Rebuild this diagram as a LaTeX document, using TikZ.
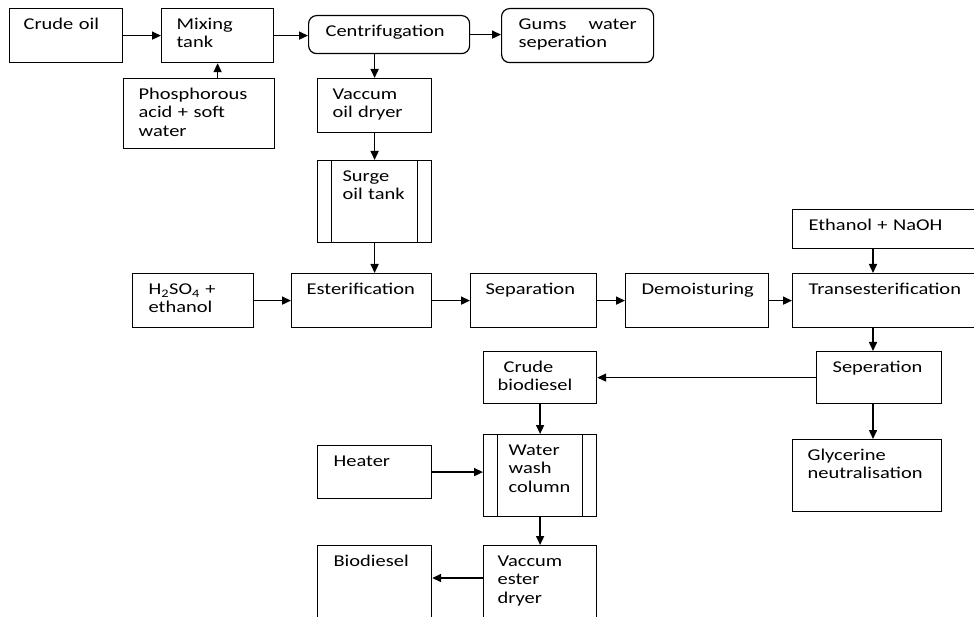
\documentclass[tikz,border=0pt]{standalone}
\usepackage{fontspec}
\setmainfont{Carlito}[FakeStretch=1.24]
\usetikzlibrary{arrows.meta}

\begin{document}
\begin{tikzpicture}[x=1pt, y=-1pt, blk/.style={draw, line width=1.2pt, rectangle, anchor=north west, align=left, inner ysep=0pt, inner xsep=15pt, text height=21pt, font=\fontsize{16.5}{18.3}\selectfont}, rnd/.style={blk, rounded corners=8pt}, proc/.style={blk, inner xsep=25pt, path picture={\draw[line width=1.2pt] ([xshift=14pt]path picture bounding box.north west) -- ([xshift=14pt]path picture bounding box.south west) ([xshift=-14pt]path picture bounding box.north east) -- ([xshift=-14pt]path picture bounding box.south east);}}, arr/.style={line width=1.5pt, -{Triangle[length=9pt,width=8pt]}}]
\useasboundingbox (0,0) rectangle (974,617);
\clip (0,0) rectangle (974,617);
\node[blk, inner xsep=14pt, text width=85pt, text depth=33pt] (crude) at (9,8) {Crude oil};
\node[blk, text width=82pt, text depth=33pt] (mixing) at (161,8) {Mixing\\tank};
\node[blk, text width=121pt, text depth=49pt] (phos) at (123,78) {Phosphorous\\acid + soft\\water};
\node[rnd, inner xsep=17pt, text width=127pt, text depth=17pt] (centri) at (308,15) {Centrifugation};
\node[rnd, inner xsep=17pt, text width=118pt, text depth=33pt, align=justify] (gums) at (501,8) {Gums water seperation};
\node[blk, text width=84pt, text depth=33pt] (vod) at (317,78) {Vaccum\\oil~dryer};
\node[proc, text width=64pt, text depth=61pt] (surge) at (317,160) {Surge\\oil~tank};
\node[blk, inner xsep=16pt, text width=89pt, text depth=33pt] (acid) at (132,273) {H\textsubscript{2}SO\textsubscript{4} +\\ethanol};
\node[blk, text width=110pt, text depth=33pt] (ester) at (291,273) {Esterification};
\node[blk, text width=96pt, text depth=33pt] (sepa) at (470,273) {Separation};
\node[blk, inner xsep=16pt, text width=111pt, text depth=33pt] (demoist) at (625,273) {Demoisturing};
\node[blk, inner xsep=16pt, text width=168pt, text depth=33pt] (trans) at (792,273) {Transesterification};
\node[blk, inner xsep=16pt, text width=168pt, text depth=18pt] (ethanol) at (792,209) {Ethanol + NaOH};
\node[blk, inner xsep=16pt, text width=93pt, text depth=31pt] (sepb) at (816,351) {Seperation};
\node[blk, inner xsep=14pt, text width=85pt, text depth=31pt] (crudebio) at (483,351) {\hspace*{6pt}Crude\\biodiesel};
\node[proc, text width=63pt, text depth=61pt] (wash) at (483,434) {Water\\wash\\column};
\node[blk, text width=119pt, text depth=51pt] (glyc) at (792,439) {Glycerine\\neutralisation};
\node[blk, inner xsep=16pt, text width=82pt, text depth=32pt] (heater) at (317,445) {Heater};
\node[blk, inner xsep=14pt, text width=85pt, text depth=79pt] (vedry) at (483,545) {Vaccum\\ester\\dryer};
\node[blk, inner xsep=16pt, text width=82pt, text depth=79pt] (biodiesel) at (317,545) {Biodiesel};
\coordinate (tcol) at (873,0);
\draw[arr] (crude.east) -- (crude.east -| mixing.west);
\draw[arr] (phos.north -| mixing.south) -- (mixing.south);
\draw[arr] (mixing.east) -- (mixing.east -| centri.west);
\draw[arr] (centri.east) -- (centri.east -| gums.west);
\draw[arr] (centri.south -| vod.north) -- (vod.north);
\draw[arr] (vod.south) -- (surge.north);
\draw[arr] (surge.south) -- (surge.south |- ester.north);
\draw[arr] (acid.east) -- (acid.east -| ester.west);
\draw[arr] (ester.east) -- (ester.east -| sepa.west);
\draw[arr] (sepa.east) -- (sepa.east -| demoist.west);
\draw[arr] (demoist.east) -- (demoist.east -| trans.west);
\draw[arr] (tcol |- ethanol.south) -- (tcol |- trans.north);
\draw[arr] (tcol |- trans.south) -- (tcol |- sepb.north);
\draw[arr] (tcol |- sepb.south) -- (tcol |- glyc.north);
\draw[arr] (sepb.west) -- (sepb.west -| crudebio.east);
\draw[arr] (crudebio.south) -- (crudebio.south |- wash.north);
\draw[arr] (heater.east) -- (heater.east -| wash.west);
\draw[arr] (wash.south) -- (wash.south |- vedry.north);
\draw[arr] ([yshift=-33pt]vedry.north west) -- ([yshift=-33pt]biodiesel.north east);
\end{tikzpicture}
\end{document}
